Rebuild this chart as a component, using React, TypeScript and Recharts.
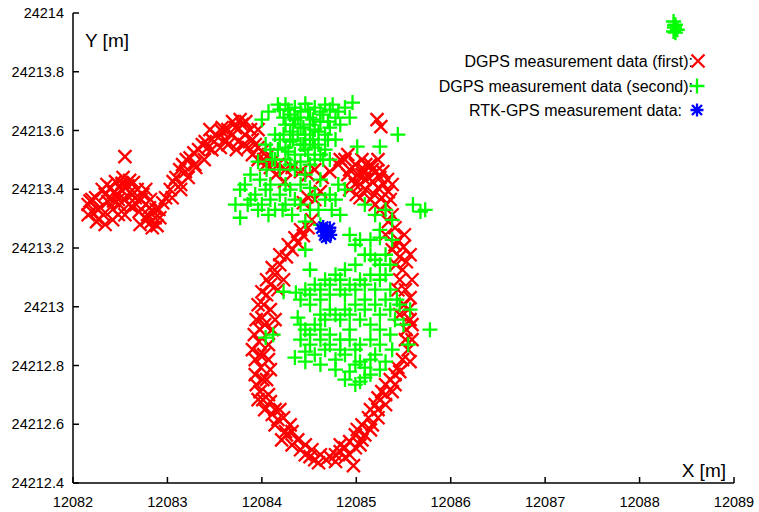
import { ScatterChart, Scatter, XAxis, YAxis, Legend } from 'recharts';

// axis ticks
const xTicks = [12082, 12083, 12084, 12085, 12086, 12087, 12088, 12089];
const yTicks = [24212.4, 24212.6, 24212.8, 24213, 24213.2, 24213.4, 24213.6, 24213.8, 24214];

// DGPS first run, [x, y] in metres
const redWest = [
  [12082.16, 24213.348], [12082.20, 24213.324], [12082.24, 24213.371], [12082.27, 24213.297],
  [12082.29, 24213.337], [12082.32, 24213.314], [12082.34, 24213.382], [12082.37, 24213.358],
  [12082.40, 24213.405], [12082.42, 24213.331], [12082.45, 24213.426], [12082.47, 24213.378],
  [12082.49, 24213.348], [12082.51, 24213.399], [12082.53, 24213.440], [12082.55, 24213.365],
  [12082.58, 24213.412], [12082.60, 24213.388], [12082.62, 24213.341], [12082.64, 24213.423],
  [12082.66, 24213.371], [12082.68, 24213.399], [12082.70, 24213.324], [12082.72, 24213.365],
  [12082.74, 24213.382], [12082.77, 24213.348], [12082.79, 24213.314], [12082.81, 24213.337],
  [12082.83, 24213.290], [12082.85, 24213.324], [12082.87, 24213.303], [12082.89, 24213.276],
  [12082.91, 24213.331], [12082.95, 24213.354], [12082.98, 24213.371], [12082.55, 24213.511],
  [12082.25, 24213.290], [12082.34, 24213.280], [12082.48, 24213.314], [12082.71, 24213.280],
  [12082.84, 24213.269], [12082.18, 24213.360], [12082.43, 24213.360], [12082.52, 24213.420],
  [12082.60, 24213.430], [12082.31, 24213.399], [12082.36, 24213.416], [12082.43, 24213.388],
  [12082.48, 24213.365], [12082.52, 24213.416], [12082.59, 24213.348], [12082.63, 24213.382],
  [12082.67, 24213.348], [12082.20, 24213.365], [12082.26, 24213.331], [12082.77, 24213.399],
  [12082.82, 24213.365], [12082.88, 24213.331], [12082.92, 24213.303], [12082.78, 24213.296],
  [12082.42, 24213.296], [12082.16, 24213.313], [12082.55, 24213.313],
];

const redRidge = [
  [12083.03, 24213.399], [12083.06, 24213.426], [12083.09, 24213.440], [12083.13, 24213.467],
  [12083.16, 24213.484], [12083.20, 24213.501], [12083.24, 24213.507], [12083.28, 24213.524],
  [12083.33, 24213.535], [12083.37, 24213.552], [12083.40, 24213.562], [12083.43, 24213.542],
  [12083.47, 24213.569], [12083.51, 24213.586], [12083.54, 24213.576], [12083.58, 24213.596],
  [12083.61, 24213.569], [12083.64, 24213.603], [12083.69, 24213.586], [12083.72, 24213.610],
  [12083.75, 24213.562], [12083.79, 24213.620], [12083.82, 24213.586], [12083.86, 24213.542],
  [12083.88, 24213.603], [12083.90, 24213.518], [12083.93, 24213.552], [12083.96, 24213.501],
  [12084.00, 24213.528], [12084.04, 24213.484], [12084.07, 24213.518], [12084.11, 24213.494],
  [12083.77, 24213.637], [12083.45, 24213.603], [12083.29, 24213.484], [12083.19, 24213.460],
  [12083.14, 24213.416], [12083.05, 24213.371], [12083.14, 24213.399], [12083.22, 24213.440],
  [12083.30, 24213.474], [12083.39, 24213.501], [12083.47, 24213.535], [12083.56, 24213.542],
  [12083.64, 24213.552], [12083.73, 24213.535], [12083.81, 24213.552], [12083.90, 24213.569],
  [12083.96, 24213.542], [12084.02, 24213.501], [12084.09, 24213.474], [12083.69, 24213.630],
  [12083.83, 24213.630], [12083.58, 24213.610], [12083.96, 24213.603], [12084.15, 24213.450],
  [12084.24, 24213.426],
  [12084.17, 24213.484], [12084.25, 24213.467], [12084.32, 24213.474], [12084.41, 24213.460],
  [12084.49, 24213.450], [12084.56, 24213.467], [12084.64, 24213.440], [12084.72, 24213.460],
  [12084.81, 24213.484], [12084.44, 24213.354], [12084.48, 24213.375],
];

const redEast = [
  [12084.88, 24213.501], [12084.93, 24213.467], [12084.96, 24213.433], [12084.99, 24213.484],
  [12085.02, 24213.450], [12085.04, 24213.416], [12085.06, 24213.501], [12085.08, 24213.467],
  [12085.10, 24213.399], [12085.13, 24213.440], [12085.15, 24213.484], [12085.17, 24213.426],
  [12085.19, 24213.382], [12085.21, 24213.460], [12085.23, 24213.405], [12085.25, 24213.440],
  [12085.27, 24213.371], [12085.29, 24213.416], [12085.32, 24213.348], [12085.34, 24213.392],
  [12085.04, 24213.371], [12085.15, 24213.365], [12084.93, 24213.399], [12085.22, 24213.637],
  [12085.26, 24213.613], [12085.25, 24213.330], [12085.34, 24213.290], [12085.31, 24213.245],
  [12085.41, 24213.211], [12084.91, 24213.450], [12084.99, 24213.416], [12085.06, 24213.450],
  [12085.10, 24213.484], [12085.17, 24213.467], [12085.23, 24213.501], [12085.28, 24213.460],
  [12085.33, 24213.433], [12085.36, 24213.365], [12085.38, 24213.416], [12085.00, 24213.382],
  [12085.20, 24213.348], [12085.09, 24213.433], [12084.91, 24213.518], [12084.83, 24213.501],
];

const redLoop = [
  [12085.38, 24213.313], [12085.41, 24213.269], [12085.44, 24213.228], [12085.50, 24213.204],
  [12085.46, 24213.170], [12085.53, 24213.153], [12085.49, 24213.126], [12085.46, 24213.092],
  [12085.52, 24213.058], [12085.57, 24213.031], [12085.51, 24213.007], [12085.55, 24212.990],
  [12085.59, 24212.939], [12085.53, 24212.922], [12085.52, 24212.888], [12085.55, 24212.854],
  [12085.49, 24212.820], [12085.44, 24212.793], [12085.41, 24212.769], [12085.36, 24212.752],
  [12085.31, 24212.735], [12085.27, 24212.711], [12085.23, 24212.690], [12085.20, 24212.667],
  [12085.15, 24212.650], [12085.13, 24212.622], [12085.06, 24212.598], [12085.01, 24212.582],
  [12084.99, 24212.564], [12084.93, 24212.541], [12084.88, 24212.520], [12084.83, 24212.507],
  [12084.78, 24212.496], [12084.72, 24212.490], [12084.68, 24212.479], [12084.62, 24212.496],
  [12084.60, 24212.469], [12084.53, 24212.513], [12084.51, 24212.490], [12084.46, 24212.530],
  [12084.41, 24212.513], [12084.38, 24212.547], [12084.32, 24212.575], [12084.30, 24212.598],
  [12084.26, 24212.564], [12084.23, 24212.622], [12084.19, 24212.650], [12084.17, 24212.616],
  [12084.14, 24212.650], [12084.09, 24212.677], [12084.07, 24212.701], [12084.01, 24212.752],
  [12083.99, 24212.793], [12083.98, 24212.837], [12083.97, 24212.881], [12083.98, 24212.922],
  [12084.00, 24212.963], [12084.02, 24213.007], [12084.05, 24213.041], [12084.09, 24213.075],
  [12084.14, 24213.109], [12084.19, 24213.143], [12084.26, 24213.170], [12084.32, 24213.194],
  [12084.38, 24213.218], [12084.44, 24213.242], [12084.49, 24213.269], [12084.53, 24213.296],
  [12084.56, 24213.365], [12084.62, 24213.392], [12084.97, 24212.459], [12084.09, 24212.786],
  [12084.07, 24212.871], [12084.11, 24212.922], [12084.14, 24212.956], [12084.09, 24212.990],
  [12084.17, 24213.058], [12084.23, 24213.092], [12083.93, 24212.820], [12083.94, 24212.735],
  [12084.01, 24212.684], [12084.11, 24212.633], [12084.25, 24212.575], [12083.93, 24212.769],
  [12083.98, 24212.711], [12085.38, 24212.711], [12085.31, 24212.667], [12085.23, 24212.622],
  [12085.17, 24212.598], [12085.09, 24212.564], [12085.04, 24212.530], [12084.93, 24212.496],
  [12084.83, 24212.530], [12085.57, 24213.177], [12085.59, 24213.092],
  [12084.19, 24213.177], [12084.11, 24213.133], [12084.05, 24213.092], [12084.00, 24213.051],
  [12083.96, 24213.007], [12083.94, 24212.956], [12083.92, 24212.905], [12083.90, 24212.854],
  [12084.03, 24212.939], [12084.02, 24212.837], [12084.05, 24212.752], [12084.07, 24212.820],
  [12083.96, 24212.684], [12084.03, 24212.650], [12084.14, 24212.598], [12084.21, 24212.547],
  [12084.32, 24212.530], [12084.46, 24212.496], [12084.56, 24212.479], [12084.78, 24212.473],
  [12084.88, 24212.486], [12084.99, 24212.520], [12085.06, 24212.547], [12085.15, 24212.581],
  [12085.23, 24212.650], [12085.31, 24212.701], [12085.41, 24212.735], [12085.46, 24212.779],
  [12085.57, 24212.813], [12085.59, 24212.888], [12085.57, 24212.956], [12085.46, 24212.973],
  [12085.44, 24213.058], [12085.42, 24213.143], [12085.38, 24213.194], [12085.51, 24213.245],
  [12084.41, 24213.262], [12084.35, 24213.235], [12084.28, 24213.211],
];

// DGPS second run
const greenNorth = [
  [12084.19, 24213.671], [12084.25, 24213.688], [12084.30, 24213.654], [12084.35, 24213.678],
  [12084.41, 24213.664], [12084.46, 24213.691], [12084.51, 24213.644], [12084.56, 24213.678],
  [12084.62, 24213.664], [12084.67, 24213.688], [12084.72, 24213.671], [12084.25, 24213.620],
  [12084.30, 24213.596], [12084.35, 24213.637], [12084.41, 24213.610], [12084.46, 24213.586],
  [12084.51, 24213.620], [12084.56, 24213.603], [12084.62, 24213.630], [12084.67, 24213.586],
  [12084.72, 24213.610], [12084.78, 24213.644], [12084.19, 24213.569], [12084.25, 24213.542],
  [12084.30, 24213.562], [12084.35, 24213.518], [12084.41, 24213.552], [12084.46, 24213.535],
  [12084.51, 24213.569], [12084.56, 24213.542], [12084.62, 24213.518], [12084.14, 24213.586],
  [12084.09, 24213.535], [12084.04, 24213.552], [12084.14, 24213.501], [12084.19, 24213.467],
  [12084.30, 24213.484], [12084.41, 24213.494], [12084.51, 24213.484], [12084.67, 24213.535],
  [12084.78, 24213.569], [12084.83, 24213.620], [12084.88, 24213.678], [12084.96, 24213.695],
  [12084.93, 24213.644], [12084.00, 24213.637], [12084.07, 24213.664], [12083.96, 24213.494],
  [12083.88, 24213.450], [12083.82, 24213.416], [12083.77, 24213.399], [12083.72, 24213.348],
  [12083.77, 24213.303], [12083.93, 24213.382], [12084.00, 24213.348], [12084.09, 24213.365],
  [12084.19, 24213.382], [12084.30, 24213.399], [12084.41, 24213.416], [12084.51, 24213.405],
  [12084.62, 24213.433], [12084.56, 24213.382], [12084.41, 24213.348], [12084.32, 24213.313],
  [12084.46, 24213.290], [12084.60, 24213.330], [12084.67, 24213.365], [12084.72, 24213.382],
  [12084.81, 24213.416], [12085.01, 24213.545], [12085.25, 24213.545], [12085.44, 24213.586],
  [12084.83, 24213.313], [12084.74, 24213.330], [12085.09, 24213.348], [12085.20, 24213.313],
  [12085.31, 24213.330], [12085.38, 24213.296], [12085.25, 24213.262], [12085.15, 24213.228],
  [12085.60, 24213.348], [12085.68, 24213.324], [12085.73, 24213.330], [12083.88, 24213.365],
  [12084.04, 24213.399], [12084.14, 24213.330], [12084.25, 24213.348], [12084.62, 24213.279],
  [12084.17, 24213.688], [12084.23, 24213.644], [12084.28, 24213.671], [12084.33, 24213.620],
  [12084.38, 24213.644], [12084.44, 24213.610], [12084.49, 24213.671], [12084.54, 24213.637],
  [12084.60, 24213.596], [12084.65, 24213.654], [12084.70, 24213.630], [12084.75, 24213.688],
  [12084.81, 24213.664], [12084.23, 24213.586], [12084.28, 24213.528], [12084.33, 24213.569],
  [12084.38, 24213.586], [12084.44, 24213.552], [12084.49, 24213.518], [12084.54, 24213.569],
  [12084.60, 24213.552], [12084.65, 24213.501], [12084.70, 24213.569], [12084.17, 24213.535],
  [12084.11, 24213.501], [12084.05, 24213.467], [12084.25, 24213.501], [12084.35, 24213.467],
  [12084.46, 24213.450], [12084.56, 24213.501], [12084.72, 24213.501], [12083.98, 24213.433],
  [12084.09, 24213.416], [12084.25, 24213.416], [12083.85, 24213.348], [12083.96, 24213.330],
  [12084.07, 24213.313], [12084.22, 24213.330], [12084.35, 24213.365], [12084.51, 24213.330],
  [12084.78, 24213.365], [12084.88, 24213.399],
];

const greenCore = [
  [12084.93, 24213.245], [12085.04, 24213.228], [12085.25, 24213.235], [12085.09, 24213.177],
  [12085.20, 24213.160], [12085.31, 24213.177], [12085.36, 24213.143], [12084.99, 24213.143],
  [12084.88, 24213.126], [12084.78, 24213.109], [12084.67, 24213.092], [12084.56, 24213.075],
  [12084.46, 24213.058], [12084.41, 24213.024], [12084.51, 24213.007], [12084.62, 24213.024],
  [12084.72, 24213.041], [12084.83, 24213.058], [12084.93, 24213.075], [12085.04, 24213.092],
  [12085.15, 24213.109], [12085.25, 24213.092], [12085.36, 24213.058], [12085.31, 24213.024],
  [12085.20, 24213.007], [12085.09, 24213.024], [12084.99, 24213.007], [12084.88, 24212.990],
  [12084.78, 24212.973], [12084.67, 24212.956], [12084.56, 24212.939], [12084.46, 24212.922],
  [12084.41, 24212.888], [12084.51, 24212.871], [12084.62, 24212.888], [12084.72, 24212.905],
  [12084.83, 24212.888], [12084.93, 24212.922], [12085.04, 24212.956], [12085.15, 24212.939],
  [12085.25, 24212.922], [12085.36, 24212.905], [12085.41, 24212.956], [12085.46, 24213.007],
  [12084.99, 24212.854], [12084.88, 24212.837], [12084.78, 24212.820], [12084.67, 24212.854],
  [12084.56, 24212.837], [12084.46, 24212.847], [12084.35, 24212.827], [12085.04, 24212.813],
  [12085.15, 24212.769], [12085.20, 24212.837], [12085.25, 24212.871], [12084.93, 24212.779],
  [12084.88, 24212.752], [12085.04, 24212.745], [12085.09, 24212.793], [12085.31, 24212.813],
  [12085.38, 24212.854], [12084.38, 24212.963], [12084.36, 24213.048], [12084.51, 24213.126],
  [12084.46, 24213.194], [12084.23, 24213.051], [12084.12, 24212.905], [12084.04, 24212.895],
  [12085.78, 24212.922], [12085.55, 24212.871], [12085.50, 24212.939], [12085.57, 24212.990],
  [12085.43, 24213.024], [12084.99, 24213.211], [12085.15, 24213.177], [12085.25, 24213.143],
  [12085.38, 24213.228], [12084.83, 24213.092], [12084.72, 24213.075], [12084.62, 24213.058],
  [12084.51, 24213.041], [12084.88, 24213.041], [12084.99, 24213.058], [12085.09, 24213.075],
  [12085.20, 24213.058], [12085.31, 24213.109], [12084.72, 24212.990], [12084.62, 24212.973],
  [12084.83, 24212.956], [12084.93, 24212.973], [12085.09, 24212.990], [12085.25, 24212.973],
  [12085.36, 24212.990], [12084.51, 24212.905], [12084.62, 24212.922], [12084.41, 24212.939],
  [12084.72, 24212.871], [12084.83, 24212.854], [12084.93, 24212.888], [12085.04, 24212.871],
  [12085.15, 24212.888], [12084.46, 24212.813], [12084.62, 24212.803], [12084.78, 24212.786],
  [12084.99, 24212.803], [12085.15, 24212.820], [12085.25, 24212.786], [12084.99, 24212.735],
  [12085.09, 24212.759],
];

const greenFar = [
  [12088.36, 24213.971], [12088.38, 24213.960], [12088.37, 24213.950], [12088.40, 24213.943],
  [12088.36, 24213.937], [12088.38, 24213.933], [12088.37, 24213.957],
];

// RTK-GPS
const rtkPoints = [
  [12084.63, 24213.266], [12084.66, 24213.242], [12084.69, 24213.259], [12084.72, 24213.269],
  [12084.73, 24213.245], [12084.68, 24213.235], [12084.65, 24213.273], [12084.69, 24213.252],
];

const toPts = (rows: number[][]) => rows.map(([x, y]) => ({ x, y }));
const firstRun = toPts([...redWest, ...redRidge, ...redEast, ...redLoop]);
const secondRun = toPts([...greenNorth, ...greenCore, ...greenFar]);
const rtkRun = toPts(rtkPoints);

const FONT = '"Liberation Sans", Arial, Helvetica, sans-serif';
const RED = '#ff0000';
const GREEN = '#00ff00';
const BLUE = '#0000ff';

const crossPath = (cx: number, cy: number, r: number) =>
  `M${cx - r},${cy - r}L${cx + r},${cy + r}M${cx - r},${cy + r}L${cx + r},${cy - r}`;
const plusPath = (cx: number, cy: number, r: number) =>
  `M${cx - r},${cy}L${cx + r},${cy}M${cx},${cy - r}L${cx},${cy + r}`;

const XMark = (p: any) => (
  <path d={crossPath(p.cx, p.cy, 6.5)} stroke={RED} strokeWidth={2.3} fill="none" />
);
const PlusMark = (p: any) => (
  <path d={plusPath(p.cx, p.cy, 7.5)} stroke={GREEN} strokeWidth={2.3} fill="none" />
);
const StarMark = (p: any) => (
  <path
    d={crossPath(p.cx, p.cy, 5) + plusPath(p.cx, p.cy, 6.5)}
    stroke={BLUE}
    strokeWidth={2.3}
    fill="none"
  />
);

const BottomTick = ({ x, y, payload }: any) => (
  <g>
    <line x1={x} y1={y} x2={x} y2={y - 6} stroke="#000" strokeWidth={1.5} />
    <text x={x} y={y + 24} textAnchor="middle" fontSize={14.5} fontFamily={FONT} fill="#000">
      {payload.value}
    </text>
  </g>
);
const TopTick = ({ x, y }: any) => (
  <line x1={x} y1={y} x2={x} y2={y + 6} stroke="#000" strokeWidth={1.5} />
);
const LeftTick = ({ x, y, payload }: any) => (
  <g>
    <line x1={x} y1={y} x2={x + 6} y2={y} stroke="#000" strokeWidth={1.5} />
    <text x={x - 9} y={y + 5} textAnchor="end" fontSize={14.5} fontFamily={FONT} fill="#000">
      {payload.value}
    </text>
  </g>
);
const RightTick = ({ x, y }: any) => (
  <line x1={x} y1={y} x2={x - 6} y2={y} stroke="#000" strokeWidth={1.5} />
);

// gnuplot-style key and axis titles, drawn over the plot
const Overlay = () => (
  <svg width={759} height={512} style={{ position: 'absolute', left: 0, top: 0 }}>
    <g fontFamily={FONT} fill="#000">
      <text x={85} y={47} fontSize={19}>Y [m]</text>
      <text x={726} y={477} fontSize={19} textAnchor="end">X [m]</text>
      <text x={693} y={67} fontSize={16} textAnchor="end">DGPS measurement data (first):</text>
      <text x={693} y={92} fontSize={16} textAnchor="end">DGPS measurement data (second):</text>
      <text x={682} y={116} fontSize={16} textAnchor="end">RTK-GPS measurement data:</text>
    </g>
    <path d={crossPath(698, 61, 6.5)} stroke={RED} strokeWidth={2.3} fill="none" />
    <path d={plusPath(697, 86, 7.5)} stroke={GREEN} strokeWidth={2.3} fill="none" />
    <path d={crossPath(697, 110, 5) + plusPath(697, 110, 6.5)} stroke={BLUE} strokeWidth={2.3} fill="none" />
  </svg>
);

const axisLine = { stroke: '#000', strokeWidth: 1.5 };

export default function App() {
  return (
    <div style={{ position: 'absolute', left: 0, top: 0, background: '#fff' }}>
      <ScatterChart
        width={759}
        height={512}
        margin={{ top: 13, right: 25, bottom: 0, left: 0 }}
        style={{ fontFamily: FONT }}
      >
        <XAxis
          type="number"
          dataKey="x"
          domain={[12082, 12089]}
          ticks={xTicks}
          interval={0}
          height={29}
          tickSize={0}
          tickMargin={0}
          tickLine={false}
          axisLine={axisLine}
          tick={BottomTick}
          allowDataOverflow
        />
        <XAxis
          xAxisId="top"
          orientation="top"
          type="number"
          domain={[12082, 12089]}
          ticks={xTicks}
          interval={0}
          height={0}
          tickSize={0}
          tickMargin={0}
          tickLine={false}
          axisLine={axisLine}
          tick={TopTick}
          allowDataOverflow
        />
        <YAxis
          type="number"
          dataKey="y"
          domain={[24212.4, 24214]}
          ticks={yTicks}
          interval={0}
          width={73}
          tickSize={0}
          tickMargin={0}
          tickLine={false}
          axisLine={axisLine}
          tick={LeftTick}
          allowDataOverflow
        />
        <YAxis
          yAxisId="right"
          orientation="right"
          type="number"
          domain={[24212.4, 24214]}
          ticks={yTicks}
          interval={0}
          width={0}
          tickSize={0}
          tickMargin={0}
          tickLine={false}
          axisLine={axisLine}
          tick={RightTick}
          allowDataOverflow
        />
        <Scatter name="DGPS measurement data (first)" data={firstRun} shape={XMark} isAnimationActive={false} />
        <Scatter name="DGPS measurement data (second)" data={secondRun} shape={PlusMark} isAnimationActive={false} />
        <Scatter name="RTK-GPS measurement data" data={rtkRun} shape={StarMark} isAnimationActive={false} />
        <Legend
          layout="vertical"
          align="center"
          verticalAlign="middle"
          wrapperStyle={{ left: 0, top: 0, width: 759, height: 512 }}
          content={() => <Overlay />}
        />
      </ScatterChart>
    </div>
  );
}
